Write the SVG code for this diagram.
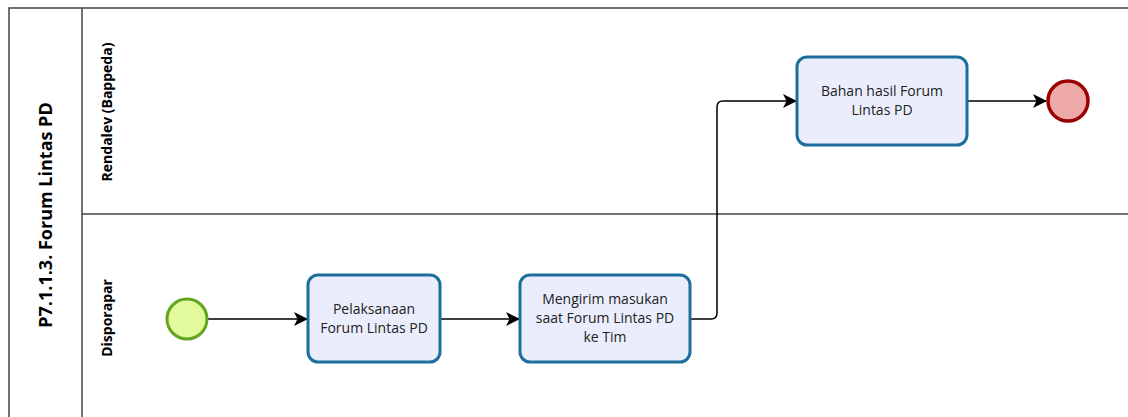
<svg xmlns="http://www.w3.org/2000/svg" width="1128" height="417" viewBox="0 0 1128 417">
<defs>
<style>
.lane{fill:none;stroke:#444;stroke-width:1.5}
.task rect{fill:#eaeefc;stroke:#1c6e9c;stroke-width:3}
.task text{font-family:"Open Sans","Noto Sans",sans-serif;font-size:14px;fill:#222;text-anchor:middle}
.lbl{font-family:"Open Sans","Noto Sans",sans-serif;font-weight:bold;fill:#000;text-anchor:middle}
.flow{fill:none;stroke:#000;stroke-width:1.5}
</style>
<marker id="arr" viewBox="0 0 14 14" refX="13" refY="7" markerWidth="14" markerHeight="14" markerUnits="userSpaceOnUse" orient="auto">
<path d="M0,0 L14,7 L0,14 L3.5,7 Z" fill="#000"/>
</marker>
</defs>
<rect width="1128" height="417" fill="#fff"/>
<g id="pool">
<rect class="lane" x="9" y="8" width="1130" height="420"/>
<line class="lane" x1="82" y1="8" x2="82" y2="428"/>
<text class="lbl" font-size="18" transform="translate(52,215) rotate(-90)">P7.1.1.3. Forum Lintas PD</text>
</g>
<g id="lane-rendalev">
<line class="lane" x1="82" y1="214" x2="1128" y2="214"/>
<text class="lbl" font-size="14" transform="translate(112,112) rotate(-90)">Rendalev (Bappeda)</text>
</g>
<g id="lane-disporapar">
<text class="lbl" font-size="14" transform="translate(112,318) rotate(-90)">Disporapar</text>
</g>
<g id="connectors">
<path class="flow" d="M208,319 H307" marker-end="url(#arr)"/>
<path class="flow" d="M440,319 H519" marker-end="url(#arr)"/>
<path class="flow" d="M690,319 H711 Q717,319 717,313 V107 Q717,101 723,101 H796" marker-end="url(#arr)"/>
<path class="flow" d="M967,101 H1046" marker-end="url(#arr)"/>
</g>
<g id="start">
<circle cx="187" cy="319" r="20" fill="#e2fa9b" stroke="#62a51e" stroke-width="3"/>
</g>
<g id="task1" class="task">
<rect x="308" y="275" width="132" height="87" rx="10"/>
<text x="374" y="314">Pelaksanaan</text>
<text x="374" y="333">Forum Lintas PD</text>
</g>
<g id="task2" class="task">
<rect x="520" y="275" width="170" height="87" rx="10"/>
<text x="605" y="304">Mengirim masukan</text>
<text x="605" y="323">saat Forum Lintas PD</text>
<text x="605" y="342">ke Tim</text>
</g>
<g id="task3" class="task">
<rect x="797" y="57" width="170" height="88" rx="10"/>
<text x="882" y="96">Bahan hasil Forum</text>
<text x="882" y="115">Lintas PD</text>
</g>
<g id="end">
<circle cx="1068" cy="101" r="20" fill="#eda8a8" stroke="#990000" stroke-width="3.5"/>
</g>
</svg>
